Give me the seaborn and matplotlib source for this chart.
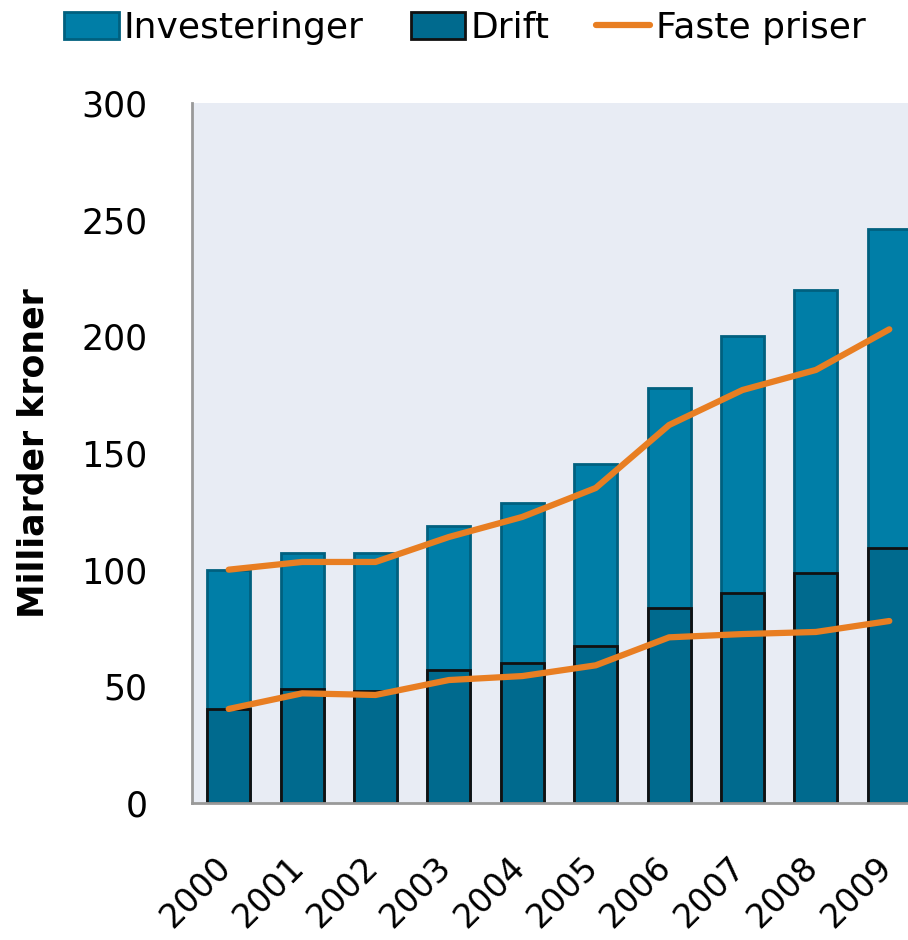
import numpy as np
import pandas as pd
import matplotlib
matplotlib.use("Agg")
import matplotlib.pyplot as plt
import matplotlib.transforms as mtransforms
import seaborn as sns

years = ["2000", "2001", "2002", "2003", "2004", "2005", "2006", "2007", "2008", "2009"]
drift = [40.3, 48.9, 48.0, 57.0, 60.0, 67.3, 83.6, 90.0, 98.6, 109.3]
total = [100.0, 107.0, 107.0, 118.7, 128.6, 145.3, 177.9, 200.1, 219.9, 246.0]
faste_total = [100.0, 103.3, 103.3, 114.0, 122.6, 135.0, 162.0, 177.0, 185.6, 203.0]
faste_drift = [40.3, 47.0, 46.3, 52.7, 54.4, 59.0, 71.0, 72.4, 73.3, 78.0]

inv_color = "#007EA7"
drift_color = "#006A8E"
line_color = "#E87E22"

sns.set_style("white", {"axes.facecolor": "#E8ECF4", "text.color": "black",
                        "axes.labelcolor": "black", "xtick.color": "black",
                        "ytick.color": "black"})
plt.rcParams["font.family"] = ["DejaVu Sans"]

fig = plt.figure(figsize=(9.08, 9.40), dpi=100)
ax = fig.add_axes([192 / 908, 137 / 940, 734 / 908, 700 / 940])

df = pd.DataFrame({"year": years, "total": total, "drift": drift})

sns.barplot(data=df, x="year", y="total", color=inv_color, edgecolor="#00607F",
            linewidth=2, width=0.585, saturation=1, label="Investeringer", ax=ax)
sns.barplot(data=df, x="year", y="drift", color=drift_color, edgecolor="#111111",
            linewidth=2, width=0.585, saturation=1, label="Drift", ax=ax)
sns.lineplot(x=years, y=faste_total, color=line_color, linewidth=4.5,
             label="Faste priser", ax=ax)
sns.lineplot(x=years, y=faste_drift, color=line_color, linewidth=4.5, ax=ax)

ax.set_xlim(-0.5, 9.5)
ax.set_ylim(0, 300)
ax.set_yticks(range(0, 301, 50))
ax.set_xlabel("")
ax.set_ylabel("Milliarder kroner", fontsize=25, fontweight="bold", labelpad=22)
ax.tick_params(axis="y", length=0, pad=32, labelsize=25)
ax.tick_params(axis="x", length=0, pad=34, labelsize=24)
offset = mtransforms.ScaledTranslation(9 / 100, 0, fig.dpi_scale_trans)
for lab in ax.get_xticklabels():
    lab.set_rotation(45)
    lab.set_ha("right")
    lab.set_transform(lab.get_transform() + offset)

for side in ["top", "right"]:
    ax.spines[side].set_visible(False)
for side in ["left", "bottom"]:
    ax.spines[side].set_color("#999999")
    ax.spines[side].set_linewidth(2)

handles, labels = ax.get_legend_handles_labels()
if ax.get_legend():
    ax.get_legend().remove()
order = [labels.index(n) for n in ["Investeringer", "Drift", "Faste priser"]]
fig.legend([handles[i] for i in order], [labels[i] for i in order], loc="center",
           bbox_to_anchor=(465 / 908, 1 - 28 / 940), ncol=3, frameon=False,
           fontsize=26, handlelength=1.5, handleheight=0.8, handletextpad=0.15,
           columnspacing=1.3, borderaxespad=0)

fig.savefig("out.png", dpi=100)
